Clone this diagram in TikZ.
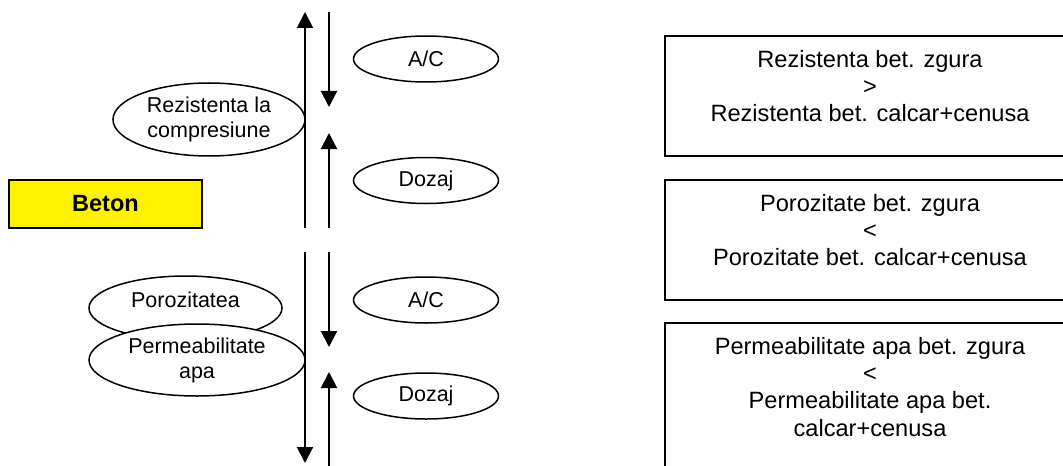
\documentclass[tikz,border=0pt]{standalone}
\usepackage{fontspec}
\setmainfont{Liberation Sans}
\usetikzlibrary{arrows.meta,shapes.geometric}

\tikzset{
	oval/.style={draw,ellipse,line width=0.75pt,fill=white,inner sep=0pt,align=center,
		minimum width=72.5pt,minimum height=23pt,font=\fontsize{10.75}{12.5}\selectfont},
	resbox/.style={draw,rectangle,line width=1pt,inner sep=0pt,minimum width=205pt,minimum height=60pt},
	restext/.style={anchor=north,inner sep=0pt,align=center,font=\fontsize{11.8}{13.6}\selectfont},
	materialbox/.style={draw,rectangle,line width=0.8pt,fill=yellow,inner sep=0pt,
		minimum width=96.5pt,minimum height=24pt,font=\fontsize{11.75}{13.5}\selectfont\bfseries},
	flow/.style={->,line width=1pt}
}

\begin{document}
\begin{tikzpicture}[x=0.5pt,y=-0.5pt,>={Triangle[width=8pt,length=8pt]}]
	\useasboundingbox (0,0) rectangle (1063,465);
	\clip (0,0) rectangle (1063,465);

	\node (beton) [materialbox] at (105.5,204) {Beton};

	\node (rez) [oval,minimum width=96pt,minimum height=36.5pt] at (209,119.5) {Rezistenta la\\compresiune};
	\node (por) [oval,minimum width=96.5pt,minimum height=32pt] at (185.5,308) {};
	\node (porlbl) [font=\fontsize{10.75}{12.5}\selectfont,inner sep=0pt] at (185.5,300) {Porozitatea};
	\node (perm) [oval,minimum width=108pt,minimum height=36pt] at (197,360) {Permeabilitate\\apa};

	\node (ac1) [oval] at (426,59) {A/C};
	\node (doz1) [oval] at (426,180.5) {Dozaj};
	\node (ac2) [oval] at (426,300) {A/C};
	\node (doz2) [oval] at (426,396) {Dozaj};

	\coordinate (a1) at (305,228); \coordinate (a2) at (305,12);
	\coordinate (b1) at (329,12);  \coordinate (b2) at (329,107);
	\coordinate (c1) at (329,228); \coordinate (c2) at (329,133);
	\coordinate (d1) at (305,252); \coordinate (d2) at (305,463);
	\coordinate (e1) at (329,252); \coordinate (e2) at (329,347);
	\coordinate (f1) at (329,470); \coordinate (f2) at (329,372);
	\draw[flow] (a1) -- (a2);
	\draw[flow] (b1) -- (b2);
	\draw[flow] (c1) -- (c2);
	\draw[flow] (d1) -- (d2);
	\draw[flow] (e1) -- (e2);
	\draw[flow] (f1) -- (f2);

	\node (r1) [resbox] at (870,96) {};
	\node (r2) [resbox] at (870,240) {};
	\node (r3) [resbox,minimum height=80pt] at (870,403) {};
	\node (t1) [restext] at ([yshift=-7.5pt]r1.north) {Rezistenta bet. zgura\\>\\Rezistenta bet. calcar+cenusa};
	\node (t2) [restext] at ([yshift=-7.5pt]r2.north) {Porozitate bet. zgura\\<\\Porozitate bet. calcar+cenusa};
	\node (t3) [restext] at ([yshift=-7.5pt]r3.north) {Permeabilitate apa bet. zgura\\<\\Permeabilitate apa bet.\\calcar+cenusa};
\end{tikzpicture}
\end{document}
